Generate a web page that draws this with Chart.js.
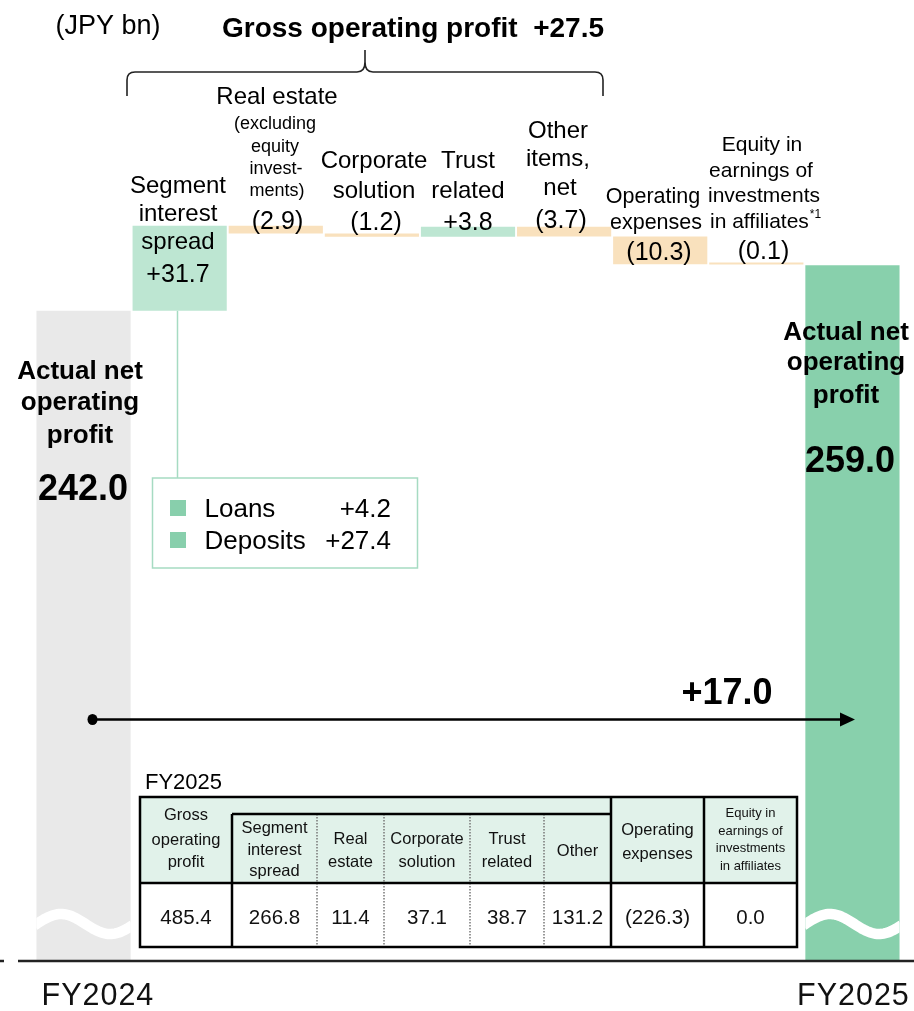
<!DOCTYPE html>
<html><head><meta charset="utf-8">
<script src="https://cdn.jsdelivr.net/npm/chart.js@4"></script>
<style>html,body{margin:0;padding:0;background:#fff;}canvas{display:block}</style>
</head><body>
<canvas id="c" width="914" height="1011"></canvas>
<script>
// ---------- data ----------
const categories = ['FY2024', 'Segment interest spread', 'Real estate', 'Corporate solution', 'Trust related', 'Other items, net', 'Operating expenses', 'Equity in earnings of investments in affiliates', 'FY2025'];
const startValue = 242.0;
const endValue = 259.0;
const changes = [31.7, -2.9, -1.2, 3.8, -3.7, -10.3, -0.1];
const changeLabels = ['+31.7', '(2.9)', '(1.2)', '+3.8', '(3.7)', '(10.3)', '(0.1)'];
const grossChangeLabel = '+27.5';
const totalChangeLabel = '+17.0';
const breakdownNames = ['Loans', 'Deposits'];
const breakdownValues = ['+4.2', '+27.4'];
const tableTitle = 'FY2025';
const tableHeaders = [['Gross', 'operating', 'profit'], ['Segment', 'interest', 'spread'], ['Real', 'estate'], ['Corporate', 'solution'], ['Trust', 'related'], ['Other'], ['Operating', 'expenses'], ['Equity in', 'earnings of', 'investments', 'in affiliates']];
const tableValues = ['485.4', '266.8', '11.4', '37.1', '38.7', '131.2', '(226.3)', '0.0'];

// ---------- build waterfall ranges ----------
const ranges = [[0, startValue]];
let cum = startValue;
changes.forEach(c => { ranges.push([cum, +(cum + c).toFixed(1)]); cum = +(cum + c).toFixed(1); });
ranges.push([0, endValue]);
const colors = ranges.map((r, i) => {
  if (i === 0) return '#e9e9e9';
  if (i === ranges.length - 1) return '#88d0ac';
  return changes[i - 1] >= 0 ? '#bde6d2' : '#f9e1bd';
});

const FONT = '"Liberation Sans", Arial, Helvetica, sans-serif';
function txt(ctx, s, x, y, size, bold, align, color) {
  ctx.font = (bold ? 'bold ' : '') + size + 'px ' + FONT;
  ctx.textAlign = align || 'center';
  ctx.textBaseline = 'alphabetic';
  ctx.fillStyle = color || '#000';
  ctx.fillText(s, x, y);
}
function line(ctx, x1, y1, x2, y2, w, c, dash) {
  ctx.save();
  ctx.beginPath();
  ctx.lineWidth = w; ctx.strokeStyle = c || '#000';
  if (dash) ctx.setLineDash(dash);
  ctx.moveTo(x1, y1); ctx.lineTo(x2, y2); ctx.stroke();
  ctx.restore();
}

const annotations = {
  id: 'annotations',
  afterDraw(chart) {
    const ctx = chart.ctx;
    const meta = chart.getDatasetMeta(0);
    ctx.save();

    // wavy break marks on the two total bars
    [0, ranges.length - 1].forEach(i => {
      const bar = meta.data[i];
      const L = bar.x - bar.width / 2, W = bar.width;
      ctx.save();
      ctx.beginPath(); ctx.rect(L, 880, W, 80); ctx.clip();
      ctx.beginPath();
      for (let k = 0; k <= 60; k++) {
        const t = k / 60;
        const x = L - 2 + (W + 4) * t;
        const y = 924 - 10 * Math.cos(2 * Math.PI * (t - 0.27));
        if (k === 0) ctx.moveTo(x, y); else ctx.lineTo(x, y);
      }
      ctx.lineWidth = 10.5; ctx.strokeStyle = '#fff'; ctx.stroke();
      ctx.restore();
    });

    // header texts
    txt(ctx, '(JPY bn)', 108, 34, 27, false);
    txt(ctx, 'Gross operating profit  ' + grossChangeLabel, 413, 37, 28, true);

    // brace
    ctx.beginPath();
    ctx.lineWidth = 1.6; ctx.strokeStyle = '#222';
    ctx.moveTo(127, 96); ctx.lineTo(127, 80);
    ctx.quadraticCurveTo(127, 72, 135, 72);
    ctx.lineTo(357, 72);
    ctx.quadraticCurveTo(365, 72, 365, 62);
    ctx.lineTo(365, 50);
    ctx.moveTo(365, 62);
    ctx.quadraticCurveTo(365, 72, 373, 72);
    ctx.lineTo(595, 72);
    ctx.quadraticCurveTo(603, 72, 603, 80);
    ctx.lineTo(603, 96);
    ctx.stroke();

    // category labels + values
    txt(ctx, 'Segment', 178, 193, 24);
    txt(ctx, 'interest', 178, 221, 24);
    txt(ctx, 'spread', 178, 249, 24);
    txt(ctx, changeLabels[0], 178, 282, 25);

    txt(ctx, 'Real estate', 277, 104, 24);
    txt(ctx, '(excluding', 275, 129, 18);
    txt(ctx, 'equity', 275, 151.5, 18);
    txt(ctx, 'invest-', 276, 173.5, 18);
    txt(ctx, 'ments)', 277, 196, 18);
    txt(ctx, changeLabels[1], 277.5, 228.5, 25);

    txt(ctx, 'Corporate', 374, 168, 24);
    txt(ctx, 'solution', 374, 197.5, 24);
    txt(ctx, changeLabels[2], 376, 230, 25);

    txt(ctx, 'Trust', 468, 168, 24);
    txt(ctx, 'related', 468, 198, 24);
    txt(ctx, changeLabels[3], 468, 229.5, 25);

    txt(ctx, 'Other', 558, 137.5, 24);
    txt(ctx, 'items,', 558, 166, 24);
    txt(ctx, 'net', 560, 195, 24);
    txt(ctx, changeLabels[4], 561, 227.5, 25);

    txt(ctx, 'Operating', 653, 202.5, 21.5);
    txt(ctx, 'expenses', 656, 228.5, 21.5);
    txt(ctx, changeLabels[5], 659, 259.5, 25);

    txt(ctx, 'Equity in', 762, 151, 21);
    txt(ctx, 'earnings of', 761, 176.5, 21);
    txt(ctx, 'investments', 764, 201.5, 21);
    txt(ctx, 'in affiliates', 710, 227.5, 21, false, 'left');
    ctx.font = '21px ' + FONT;
    const wAff = ctx.measureText('in affiliates').width;
    txt(ctx, '*1', 711 + wAff, 218, 12, false, 'left');
    txt(ctx, changeLabels[6], 763.5, 258.5, 25);

    // total bar labels
    txt(ctx, 'Actual net', 80, 379, 26, true);
    txt(ctx, 'operating', 80, 410, 26, true);
    txt(ctx, 'profit', 80, 443, 26, true);
    txt(ctx, startValue.toFixed(1), 83, 500, 36, true);

    txt(ctx, 'Actual net', 846, 339.5, 26, true);
    txt(ctx, 'operating', 846, 370, 26, true);
    txt(ctx, 'profit', 846, 403, 26, true);
    txt(ctx, endValue.toFixed(1), 850, 472, 36, true);

    // breakdown box
    const seg = meta.data[1];
    line(ctx, 177.5, seg.base, 177.5, 478, 1.5, '#a6dbc2');
    ctx.lineWidth = 1.5; ctx.strokeStyle = '#a6dbc2';
    ctx.strokeRect(152.5, 478, 265, 90);
    ctx.fillStyle = '#88cfac';
    ctx.fillRect(170, 500, 16, 16);
    ctx.fillRect(170, 532, 16, 16);
    txt(ctx, breakdownNames[0], 204.5, 517, 26, false, 'left');
    txt(ctx, breakdownValues[0], 391, 517, 26, false, 'right');
    txt(ctx, breakdownNames[1], 204.5, 549, 26, false, 'left');
    txt(ctx, breakdownValues[1], 391, 549, 26, false, 'right');

    // arrow
    line(ctx, 92, 719.5, 843, 719.5, 2.5, '#000');
    ctx.fillStyle = '#000';
    ctx.beginPath(); ctx.ellipse(92.5, 719.5, 5, 5.5, 0, 0, Math.PI * 2); ctx.fill();
    ctx.beginPath(); ctx.moveTo(855, 719.5); ctx.lineTo(840, 712.5); ctx.lineTo(840, 726.5); ctx.closePath(); ctx.fill();
    txt(ctx, totalChangeLabel, 727, 703.5, 36, true);

    // table
    const tx0 = 140, tx1 = 797, ty0 = 797, tyH = 883, ty1 = 947, tySub = 814;
    const colX = [140, 232, 317, 384, 470, 544, 611, 704, 797];
    ctx.fillStyle = '#e1f2ea';
    ctx.fillRect(tx0, ty0, tx1 - tx0, tyH - ty0);
    ctx.fillStyle = '#fff';
    ctx.fillRect(tx0, tyH, tx1 - tx0, ty1 - tyH);
    txt(ctx, tableTitle, 145, 789, 22, false, 'left');
    const hdrBase = [[820, 845, 866.5], [833, 855, 876], [844, 866.5], [844, 866.5], [844, 866.5], [856], [835, 858.5], [817, 834.5, 852, 870]];
    tableHeaders.forEach((lines, i) => {
      const cx = (colX[i] + colX[i + 1]) / 2;
      const size = i === 7 ? 13 : 16.5;
      lines.forEach((s, j) => txt(ctx, s, cx, hdrBase[i][j], size, false, 'center', '#111'));
    });
    tableValues.forEach((v, i) => {
      const cx = (colX[i] + colX[i + 1]) / 2;
      txt(ctx, v, cx, 924, 20.5, false, 'center', '#111');
    });
    [317, 384, 470, 544].forEach(x => line(ctx, x, tySub, x, ty1, 1.5, '#777', [1.5, 1.5]));
    line(ctx, 232, tySub, 611, tySub, 2.5);
    line(ctx, tx0, tyH, tx1, tyH, 2.5);
    line(ctx, 232, tySub, 232, ty1, 2.5);
    line(ctx, 611, ty0, 611, ty1, 2.5);
    line(ctx, 704, ty0, 704, ty1, 2.5);
    ctx.lineWidth = 2.5; ctx.strokeStyle = '#000';
    ctx.strokeRect(tx0, ty0, tx1 - tx0, ty1 - ty0);

    // base axis
    line(ctx, 18, 961, 914, 961, 2.5, '#222');
    line(ctx, 0, 961, 4, 961, 2.5, '#222');
    ctx.letterSpacing = '1px';
    txt(ctx, categories[0], 41.5, 1005, 30.5, false, 'left', '#111');
    txt(ctx, categories[8], 797, 1005, 30.5, false, 'left', '#111');
    ctx.letterSpacing = '0px';

    ctx.restore();
  }
};

new Chart(document.getElementById('c'), {
  type: 'bar',
  data: {
    labels: categories,
    datasets: [{
      data: ranges,
      backgroundColor: colors,
      borderWidth: 0,
      barPercentage: 0.98,
      categoryPercentage: 1.0,
      minBarLength: 2
    }]
  },
  options: {
    responsive: false,
    animation: false,
    devicePixelRatio: 1,
    layout: { padding: { left: 35.5, right: 13.5, top: 48, bottom: 51 } },
    plugins: { legend: { display: false }, tooltip: { enabled: false } },
    scales: {
      x: { display: false, grid: { display: false } },
      y: { display: false, min: 0, max: 340 }
    }
  },
  plugins: [annotations]
});
</script>
</body></html>
